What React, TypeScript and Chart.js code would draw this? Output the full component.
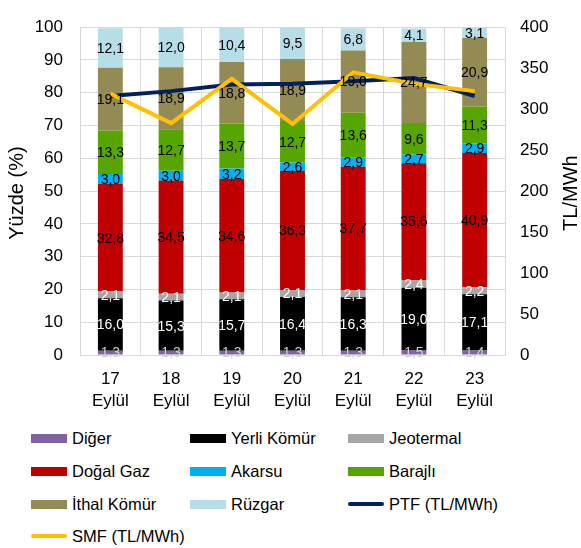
import React, { useEffect, useRef } from "react";
import { Chart, registerables } from "chart.js";

Chart.register(...registerables);

const categories: string[][] = [
  ["17", "Eylül"], ["18", "Eylül"], ["19", "Eylül"], ["20", "Eylül"],
  ["21", "Eylül"], ["22", "Eylül"], ["23", "Eylül"],
];
const diger = [1.3, 1.3, 1.3, 1.3, 1.3, 1.5, 1.4];
const yerliKomur = [16.0, 15.3, 15.7, 16.4, 16.3, 19.0, 17.1];
const jeotermal = [2.1, 2.1, 2.1, 2.1, 2.1, 2.4, 2.2];
const dogalGaz = [32.8, 34.5, 34.6, 36.3, 37.7, 35.6, 40.9];
const akarsu = [3.0, 3.0, 3.2, 2.6, 2.9, 2.7, 2.9];
const barajli = [13.3, 12.7, 13.7, 12.7, 13.6, 9.6, 11.3];
const ithalKomur = [19.1, 18.9, 18.8, 18.9, 19.0, 24.7, 20.9];
const ruzgar = [12.1, 12.0, 10.4, 9.5, 6.8, 4.1, 3.1];
const ptf = [316, 322, 330, 331, 334, 338, 316];
const smf = [319, 283, 337, 282, 345, 331, 322];

const leftTicks = { min: 0, max: 100, step: 10 };
const rightTicks = { min: 0, max: 400, step: 50 };

const FONT = "'Liberation Sans', Arial, sans-serif";

const barSeries = [
  { label: "Diğer", data: diger, color: "#8064A2", text: "#D0D0D0" },
  { label: "Yerli Kömür", data: yerliKomur, color: "#000000", text: "#FFFFFF" },
  { label: "Jeotermal", data: jeotermal, color: "#A6A6A6", text: "#FFFFFF" },
  { label: "Doğal Gaz", data: dogalGaz, color: "#C00000", text: "#000000" },
  { label: "Akarsu", data: akarsu, color: "#00B0F0", text: "#000000" },
  { label: "Barajlı", data: barajli, color: "#57A600", text: "#000000" },
  { label: "İthal Kömür", data: ithalKomur, color: "#948A54", text: "#000000" },
  { label: "Rüzgar", data: ruzgar, color: "#B7DEE8", text: "#000000" },
];
const lineSeries = [
  { label: "PTF (TL/MWh)", data: ptf, color: "#002060" },
  { label: "SMF (TL/MWh)", data: smf, color: "#FFC000" },
];

const legendItems = [
  { label: "Diğer", color: "#8064A2", line: false },
  { label: "Yerli Kömür", color: "#000000", line: false },
  { label: "Jeotermal", color: "#A6A6A6", line: false },
  { label: "Doğal Gaz", color: "#C00000", line: false },
  { label: "Akarsu", color: "#00B0F0", line: false },
  { label: "Barajlı", color: "#57A600", line: false },
  { label: "İthal Kömür", color: "#948A54", line: false },
  { label: "Rüzgar", color: "#B7DEE8", line: false },
  { label: "PTF (TL/MWh)", color: "#002060", line: true },
  { label: "SMF (TL/MWh)", color: "#FFC000", line: true },
];

const labelPlugin = {
  id: "barLabels",
  afterDatasetsDraw(chart: any) {
    const ctx = chart.ctx;
    ctx.save();
    ctx.font = `14px ${FONT}`;
    ctx.textAlign = "center";
    ctx.textBaseline = "middle";
    barSeries.forEach((s, i) => {
      const meta = chart.getDatasetMeta(i);
      meta.data.forEach((el: any, j: number) => {
        const v = s.data[j];
        const y = (el.y + el.base) / 2;
        ctx.fillStyle = s.text;
        ctx.fillText(v.toFixed(1).replace(".", ","), el.x, y + 1);
      });
    });
    ctx.restore();
  },
};

const titlePlugin = {
  id: "axisTitles",
  afterDraw(chart: any) {
    const ctx = chart.ctx;
    const ca = chart.chartArea;
    const cy = (ca.top + ca.bottom) / 2 + 2;
    ctx.save();
    ctx.font = `20px ${FONT}`;
    ctx.fillStyle = "#000";
    ctx.textAlign = "center";
    ctx.textBaseline = "middle";
    ctx.translate(17, cy);
    ctx.rotate(-Math.PI / 2);
    ctx.fillText("Yüzde (%)", 0, 0);
    ctx.restore();
    ctx.save();
    ctx.font = `20px ${FONT}`;
    ctx.fillStyle = "#000";
    ctx.textAlign = "center";
    ctx.textBaseline = "middle";
    ctx.translate(571, cy);
    ctx.rotate(-Math.PI / 2);
    ctx.fillText("TL/MWh", 0, 0);
    ctx.restore();
  },
};

export default function App() {
  const ref = useRef<HTMLCanvasElement>(null);
  useEffect(() => {
    if (!ref.current) return;
    const datasets: any[] = [
      ...barSeries.map((s) => ({
        type: "bar",
        label: s.label,
        data: s.data,
        backgroundColor: s.color,
        borderWidth: 0,
        stack: "s",
        yAxisID: "y",
        order: 2,
        categoryPercentage: 1,
        barPercentage: 0.41,
      })),
      ...lineSeries.map((s, i) => ({
        type: "line",
        label: s.label,
        data: s.data,
        borderColor: s.color,
        backgroundColor: s.color,
        borderWidth: 4,
        pointRadius: 0,
        tension: 0,
        yAxisID: "y2",
        order: 1 - i,
        fill: false,
      })),
    ];
    const chart = new Chart(ref.current, {
      type: "bar",
      data: { labels: categories as any, datasets },
      options: {
        animation: false,
        responsive: false,
        maintainAspectRatio: false,
        layout: { padding: { top: 18, left: 0, right: 0, bottom: 0 } },
        plugins: { legend: { display: false }, tooltip: { enabled: false } },
        scales: {
          x: {
            stacked: true,
            grid: { color: "#D9D9D9", lineWidth: 1, drawTicks: false, offset: true },
            border: { color: "#D9D9D9", width: 1 },
            ticks: {
              color: "#000",
              font: { family: FONT, size: 17, lineHeight: 1.25 },
              padding: 14,
              maxRotation: 0,
              autoSkip: false,
            },
            afterFit: (s: any) => { s.height = 65; },
          },
          y: {
            stacked: true,
            position: "left",
            min: leftTicks.min,
            max: leftTicks.max,
            grid: { color: "#D9D9D9", lineWidth: 1, drawTicks: false },
            border: { color: "#D9D9D9", width: 1 },
            ticks: {
              stepSize: leftTicks.step,
              color: "#000",
              font: { family: FONT, size: 17 },
              padding: 17,
            },
            afterFit: (s: any) => { s.width = 80; },
          },
          y2: {
            position: "right",
            min: rightTicks.min,
            max: rightTicks.max,
            grid: { display: false, drawTicks: false },
            border: { display: false },
            ticks: {
              stepSize: rightTicks.step,
              color: "#000",
              font: { family: FONT, size: 17 },
              padding: 15,
            },
            afterFit: (s: any) => { s.width = 76; },
          },
        },
      },
      plugins: [labelPlugin, titlePlugin],
    } as any);
    return () => chart.destroy();
  }, []);

  const colX = [31, 190, 348];
  const rowY = [438, 471, 504, 536];

  return (
    <div style={{ position: "fixed", left: 0, top: 0, width: 581, height: 548, background: "#fff", fontFamily: FONT }}>
      <canvas ref={ref} width={581} height={420} style={{ position: "absolute", left: 0, top: 0, width: 581, height: 420 }} />
      {legendItems.map((it, k) => {
        const c = k % 3;
        const r = Math.floor(k / 3);
        return (
          <div key={it.label} style={{ position: "absolute", left: colX[c], top: rowY[r] - 10, height: 20, display: "flex", alignItems: "center", whiteSpace: "nowrap" }}>
            <div style={{ width: 36, display: "flex", alignItems: "center", justifyContent: "center" }}>
              {it.line ? (
                <div style={{ width: 36, height: 4, borderRadius: 2, background: it.color }} />
              ) : (
                <div style={{ width: 36, height: 9, background: it.color }} />
              )}
            </div>
            <span style={{ marginLeft: 5, fontSize: 16.5, color: "#000", lineHeight: "20px" }}>{it.label}</span>
          </div>
        );
      })}
    </div>
  );
}
